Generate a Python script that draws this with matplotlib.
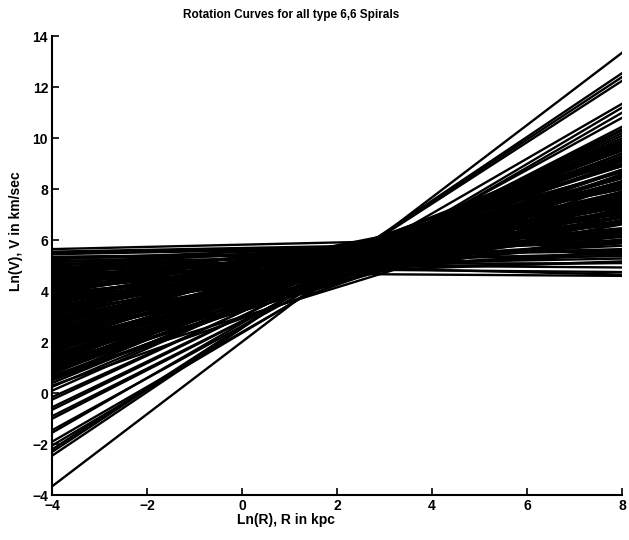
import matplotlib
matplotlib.use('Agg')
import matplotlib.pyplot as plt
import numpy as np

# ln(R) range of every fitted curve
r_range = [-4, 8]

# ln(V) of each galaxy's fit at ln(R) = -4 and at ln(R) = 8
# steep curves, low start
v_left_steep = [-3.65, -2.45, -2.3, -2.2, -2.05, -1.9, -1.55, -1.45, -1.0, -0.9,
                -0.65, -0.55, -0.25, -0.15, 0.1, 0.25, 0.4, 0.55, 0.65, 0.3, 0.7]
v_right_steep = [13.35, 12.55, 12.4, 12.25, 11.2, 11.0, 11.35, 10.8, 10.45, 10.3,
                 10.35, 10.2, 10.1, 9.9, 10.0, 9.75, 9.6, 9.8, 9.4, 8.2, 7.6]

# the dense bundle
v_left_main = [0.80, 0.85, 0.90, 0.95, 1.00, 1.05, 1.10, 1.15, 1.20, 1.25,
               1.30, 1.35, 1.40, 1.45, 1.50, 1.55, 1.60, 1.65, 1.70, 1.75,
               1.80, 1.85, 1.90, 1.95, 2.00, 2.05, 2.10, 2.15, 2.20, 2.25,
               2.30, 2.35, 2.40, 2.45, 2.50, 2.55, 2.60, 2.65, 2.70, 2.75,
               2.80, 2.85, 2.90, 2.95, 3.00, 3.05, 3.10, 3.15, 3.20, 3.25,
               3.30, 3.35, 3.40, 3.45, 3.50, 3.55, 3.60, 3.65, 3.70, 3.75,
               3.80, 3.85, 3.90, 3.95, 4.00, 4.05, 4.10, 4.15, 4.20, 4.25,
               4.30, 4.35, 4.40, 4.45, 4.50, 4.55, 4.60, 4.65, 4.70, 4.75,
               4.80, 4.85, 4.90, 4.95, 5.00, 5.05, 5.10, 5.15, 5.20, 5.25,
               5.30, 5.35, 5.45, 5.55, 5.65,
               0.5, 0.6, 0.75, 0.9, 0.95, 1.0, 1.1, 1.2, 1.3, 1.35,
               1.5, 1.6, 1.7, 1.8, 2.0, 2.0, 2.1, 2.25, 2.4, 2.6,
               2.7, 2.9, 3.1, 3.2, 3.4, 3.6, 3.7, 3.9, 4.0, 4.3, 4.5]
v_right_main = [9.54, 8.30, 9.64, 8.75, 7.69, 9.19, 8.30, 9.55, 7.71, 8.71,
                9.18, 7.78, 8.77, 9.24, 8.19, 7.20, 8.72, 9.28, 7.79, 8.26,
                8.91, 7.25, 8.32, 8.98, 7.74, 6.94, 8.44, 7.89, 8.71, 7.22,
                8.13, 8.43, 6.95, 7.59, 8.67, 7.78, 6.62, 8.14, 7.15, 7.90,
                8.28, 6.88, 7.36, 8.09, 6.17, 7.50, 7.05, 7.78, 6.38, 7.19,
                8.01, 6.69, 7.43, 6.02, 7.10, 7.67, 6.34, 6.73, 7.39, 5.89,
                7.06, 6.42, 7.50, 5.58, 6.65, 7.05, 5.90, 6.64, 7.11, 5.54,
                6.27, 6.75, 5.17, 5.90, 6.47, 5.41, 6.15, 6.71, 5.12, 5.78,
                6.34, 5.28, 6.01, 5.47, 6.37, 5.65, 4.93, 5.92, 5.37, 6.11,
                5.56, 5.61, 5.88, 5.98, 6.17,
                9.1, 8.6, 9.7, 9.3, 9.9, 9.8, 7.5, 9.4, 8.5, 9.65,
                9.0, 9.5, 8.55, 7.9, 9.1, 6.8, 8.3, 7.45, 8.9, 7.4,
                8.45, 7.7, 8.2, 7.3, 6.9, 8.0, 7.8, 6.2, 7.3, 7.0, 6.9]

# nearly flat curves
v_left_flat = [5.2, 4.95, 4.75, 5.05, 5.5, 5.3]
v_right_flat = [4.65, 4.75, 4.6, 5.1, 5.9, 5.6]

fig = plt.figure(figsize=(6.29, 5.4), dpi=100)
ax = fig.add_axes([0.083, 0.083, 0.906, 0.850])

for lefts, rights in [(v_left_steep, v_right_steep),
                      (v_left_main, v_right_main),
                      (v_left_flat, v_right_flat)]:
    for yl, yr in zip(lefts, rights):
        ax.plot(r_range, [yl, yr], color='black', lw=1.7)

ax.set_xlim(-4, 8)
ax.set_ylim(-4, 14)
ax.set_xticks([-4, -2, 0, 2, 4, 6, 8])
ax.set_yticks([-4, -2, 0, 2, 4, 6, 8, 10, 12, 14])
ax.spines['top'].set_visible(False)
ax.spines['right'].set_visible(False)
ax.spines['left'].set_linewidth(1.5)
ax.spines['bottom'].set_linewidth(1.5)
ax.tick_params(direction='in', length=5, width=1.2, labelsize=10, pad=3)
for lab in ax.get_xticklabels() + ax.get_yticklabels():
    lab.set_fontweight('bold')
    lab.set_family('Liberation Sans')

ax.set_title('Rotation Curves for all type 6,6 Spirals', fontsize=8.5,
             fontweight='bold', family='Liberation Sans', pad=13, x=0.42)
ax.set_xlabel('Ln(R), R in kpc', fontsize=10, fontweight='bold',
              family='Liberation Sans')
ax.set_ylabel('Ln(V), V in km/sec', fontsize=10, fontweight='bold',
              family='Liberation Sans')
ax.xaxis.set_label_coords(0.41, -0.038)
ax.yaxis.set_label_coords(-0.052, 0.575)

fig.savefig('out.png', dpi=100)
